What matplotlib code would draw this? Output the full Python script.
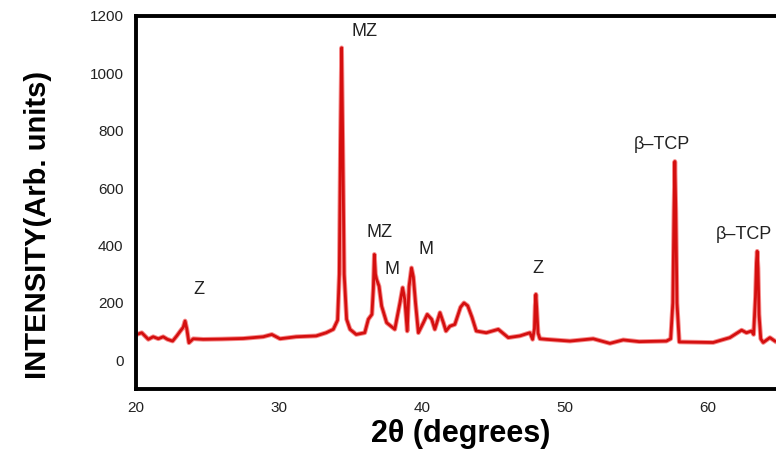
import matplotlib.pyplot as plt

plt.rcParams['font.family'] = ['Liberation Sans', 'DejaVu Sans']

# points (2theta, intensity)
two_theta = [20.05, 20.4, 20.86, 21.2, 21.56, 21.9, 22.2, 22.56, 22.85, 23.1, 23.3, 23.43, 23.55, 23.7,
             24.0, 24.7, 26.0, 27.5, 28.9, 29.5, 30.07, 31.2, 32.6, 33.3, 33.8, 34.1, 34.22,
             34.3, 34.38, 34.46, 34.56, 34.73, 34.97, 35.4, 36.0, 36.25, 36.5, 36.6, 36.67,
             36.75, 36.83, 37.0, 37.18, 37.53, 38.1, 38.46, 38.65, 38.8, 38.97, 39.1, 39.27,
             39.4, 39.55, 39.75, 40.1, 40.37, 40.68, 40.9, 41.26, 41.5, 41.68, 41.96, 42.3,
             42.7, 42.94, 43.2, 43.5, 43.8, 44.5, 45.34, 46.04, 46.85, 47.55, 47.74, 47.87,
             47.92, 47.97, 48.03, 48.12, 48.25, 48.7, 50.35, 51.98, 53.15, 54.08, 55.2, 57.1,
             57.4, 57.55, 57.63, 57.69, 57.76, 57.84, 58.0, 60.37, 61.54, 62.36, 62.7, 63.05,
             63.2, 63.33, 63.4, 63.45, 63.51, 63.58, 63.7, 63.87, 64.34, 64.69]
intensity = [90, 96, 73, 82, 75, 82, 73, 67, 85, 102, 115, 137, 110, 61,
             75, 73, 74, 76, 82, 90, 75, 82, 85, 96, 108, 140, 300,
             760, 1089, 760, 300, 143, 108, 90, 96, 143, 160, 250, 369,
             300, 282, 258, 189, 131, 108, 200, 253, 212, 102, 258, 322,
             290, 200, 96, 131, 160, 143, 108, 166, 131, 102, 119, 125,
             185, 200, 190, 150, 102, 96, 108, 79, 85, 96, 73, 110,
             190, 230, 180, 95, 75, 73, 67, 75, 59, 71, 65, 67,
             75, 200, 520, 693, 520, 200, 64, 62, 79, 105, 96, 102,
             90, 220, 340, 380, 320, 160, 75, 62, 79, 67]

peak_labels = ['Z', 'MZ', 'MZ', 'M', 'M', 'Z', 'β–TCP', 'β–TCP']
label_x = [24.43, 36.0, 37.06, 37.88, 40.28, 48.13, 56.75, 62.5]
label_y = [247, 1145, 444, 316, 386, 319, 751, 440]

fig = plt.figure(figsize=(7.76, 4.58), dpi=100)
ax = fig.add_axes([0.1753, 0.1507, 0.829, 0.8144])

ax.plot(two_theta, intensity, color='#f04040', lw=3.4, alpha=0.6, solid_joinstyle='round')
ax.plot(two_theta, intensity, color='#d40f0f', lw=2.0, solid_joinstyle='round')

for lab, lx, ly in zip(peak_labels, label_x, label_y):
    ax.text(lx, ly, lab, ha='center', va='center', fontsize=13, color='#222222')

ax.set_xlim(20, 65)
ax.set_ylim(-100, 1200)
ax.set_xticks([20, 30, 40, 50, 60])
ax.set_yticks([0, 200, 400, 600, 800, 1000, 1200])
ax.tick_params(length=0, labelsize=11, colors='#222222')
ax.tick_params(axis='y', pad=9)
ax.tick_params(axis='x', pad=9)

for s in ['left', 'bottom', 'top']:
    ax.spines[s].set_linewidth(2.8)
ax.spines['right'].set_visible(False)

ax.set_xlabel('2θ (degrees)', fontsize=22, fontweight='bold')
ax.set_ylabel('INTENSITY(Arb. units)', fontsize=21, fontweight='bold')
ax.xaxis.set_label_coords(0.504, -0.08)
ax.yaxis.set_label_coords(-0.13, 0.44)

fig.savefig('out.png', dpi=100)
